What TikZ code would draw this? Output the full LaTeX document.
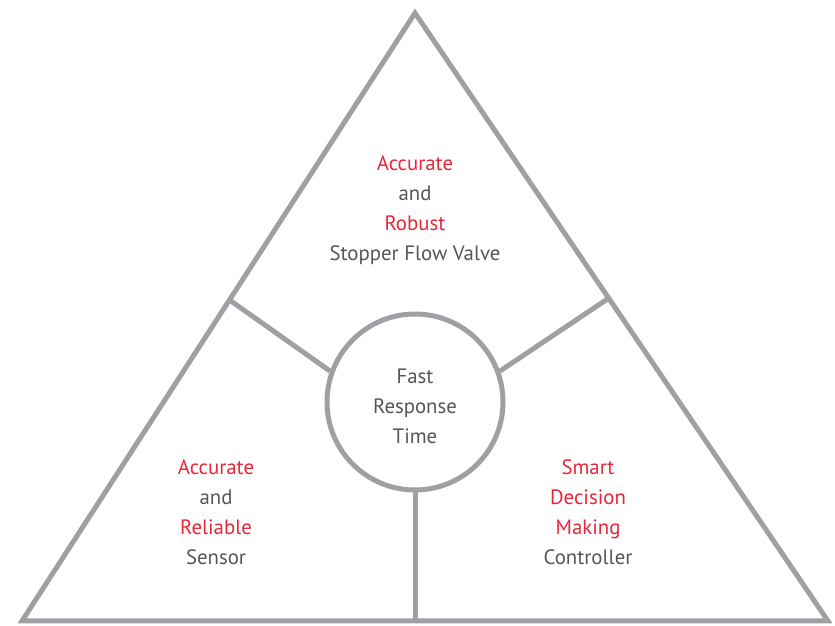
\documentclass[tikz,border=0pt]{standalone}
\usepackage{fontspec}
\setmainfont{PT Sans}
\usetikzlibrary{calc}
\definecolor{linegray}{RGB}{160,160,164}
\definecolor{textgray}{RGB}{85,85,90}
\definecolor{accentred}{RGB}{232,38,56}
\begin{document}
\begin{tikzpicture}[x=1pt, y=1pt, line width=5pt, draw=linegray,
  hub node/.style={circle,draw=linegray,fill=white,minimum size=176pt,inner sep=0pt},
  label node/.style={align=center,text=textgray,font=\fontsize{20.8}{30}\selectfont}]
\useasboundingbox (0,0) rectangle (835,626);
\begin{scope}
\coordinate (apex) at (415,613);
\coordinate (bl) at (22,5);
\coordinate (br) at (828,5);
\coordinate (sl) at ($(apex)!0.472!(bl)$);
\coordinate (sr) at ($(apex)!0.469!(br)$);
\coordinate (sb) at (415,5);
\draw[linegray] (apex) -- (bl) -- (br) -- cycle;
\end{scope}
\begin{scope}
\node[hub node] (hub) at (415,224) {};
\draw[linegray] (sl) -- (hub.160);
\draw[linegray] (sr) -- (hub.20);
\draw[linegray] (sb) -- (hub.south);
%\draw (x) -- (hub.x);
\end{scope}
\begin{scope}[every node/.style={label node}]
\node (core) at (415,220) {Fast\\Response\\Time};
\node (valve) at (415,416) {\textcolor{accentred}{Accurate}\\and\\\textcolor{accentred}{Robust}\\Stopper Flow Valve};
\node (sensor) at (216,114) {\textcolor{accentred}{Accurate}\\and\\\textcolor{accentred}{Reliable}\\Sensor};
\node (ctrl) at (588,114) {\textcolor{accentred}{Smart}\\\textcolor{accentred}{Decision}\\\textcolor{accentred}{Making}\\Controller};
\end{scope}
\end{tikzpicture}
\end{document}
